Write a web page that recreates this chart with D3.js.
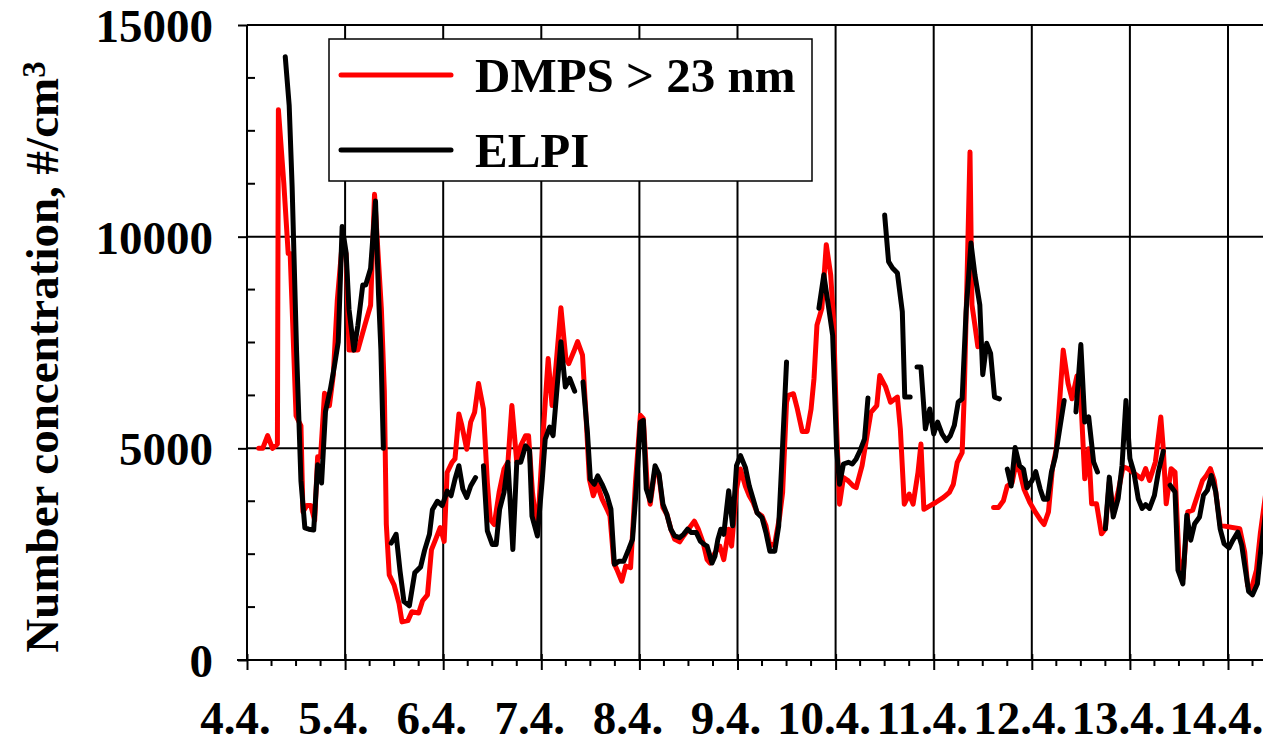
<!DOCTYPE html>
<html>
<head>
<meta charset="utf-8">
<script src="https://cdn.jsdelivr.net/npm/d3@7"></script>
<style>
  html, body { margin: 0; padding: 0; background: #fff; }
  svg { display: block; }
  text { font-family: "Liberation Serif", "Times New Roman", serif; font-weight: bold; fill: #000; }
</style>
</head>
<body>
<svg id="chart" width="1263" height="744"></svg>
<script>
// Day-of-April tick labels and y-axis ticks
const dayTicks = [4, 5, 6, 7, 8, 9, 10, 11, 12, 13, 14];
const dayLabels = ["4.4.", "5.4.", "6.4.", "7.4.", "8.4.", "9.4.", "10.4.", "11.4.", "12.4.", "13.4.", "14.4."];
const concTicks = [0, 5000, 10000, 15000];

// DMPS > 23 nm: time (day of April, fractional) and number concentration (#/cm3); null = no data
const dmpsDay = [
  4.12, 4.16, 4.21, 4.26, 4.31, 4.32, 4.375, 4.42, 4.44, 4.50, 4.55, 4.57, 4.61, 4.65, 4.69, 4.72, 4.75, 4.79, 4.84, 4.88,
  4.92, 4.97, 5.01, 5.04, 5.13, 5.20, 5.26, 5.30, 5.37, 5.40, 5.42, 5.45, 5.50, 5.55, 5.58, 5.64, 5.68, 5.75, 5.79, 5.84,
  5.88, 5.93, 5.97, 6.01, 6.04, 6.09, 6.12, 6.16, 6.19, 6.24, 6.28, 6.32, 6.36, 6.41, 6.45, 6.48, 6.52, 6.57, 6.62, 6.66,
  6.70, 6.75, 6.79, 6.84, 6.87, 6.91, 6.96, 7.02, 7.07, 7.11, 7.15, 7.20, 7.25, 7.28, 7.33, 7.37, 7.42, 7.45, 7.49, 7.53,
  7.57, 7.62, 7.67, 7.70, 7.74, 7.77, 7.82, 7.86, 7.91, 7.96, 8.01, 8.04, 8.08, 8.11, 8.16, 8.20, 8.24, 8.28, 8.32, 8.36,
  8.41, 8.45, 8.50, 8.56, 8.60, 8.65, 8.69, 8.72, 8.77, 8.82, 8.86, 8.91, 8.94, 8.99, 9.03, 9.08, 9.12, 9.16, 9.20, 9.25,
  9.29, 9.33, 9.38, 9.43, 9.46, 9.50, 9.52, 9.57, 9.61, 9.66, 9.71, 9.75, 9.78, 9.81, 9.86, 9.905, 9.95, 9.98, 10.01, 10.04,
  10.08, 10.13, 10.18, 10.21, 10.27, 10.315, 10.36, 10.42, 10.45, 10.51, 10.56, 10.63, 10.66, 10.70, 10.75, 10.79, 10.84, 10.87, 10.90, 10.96,
  11.02, 11.10, 11.16, 11.20, 11.24, 11.29, 11.31, 11.34, 11.37, 11.39, 11.42, 11.45, null,
  11.61, 11.66, 11.71, 11.75, 11.80, 11.84, 11.88, 11.92, 11.98, 12.04, 12.085, 12.125, 12.17, 12.21, 12.25, 12.32, 12.37, 12.41, 12.46, 12.50,
  12.54, 12.58, 12.61, 12.66, 12.71, 12.75, 12.79, 12.83, 12.88, 12.93, 12.98, 13.05, 13.12, 13.16, 13.20, 13.26, 13.315, 13.34, 13.37, 13.42,
  13.46, 13.50, 13.54, 13.59, 13.64, 13.69, 13.74, 13.78, 13.82, 13.86, 13.92, 14.12, 14.17, 14.20, 14.24, 14.29, 14.33, 14.40
];
const dmpsConc = [
  5000, 5000, 5300, 5000, 5100, 13000, 11270, 9600, 9600, 5770, 5530, 3500, 3650, 3650, 3300, 4800, 4800, 6300, 6010, 6740,
  8480, 9830, 9590, 7320, 7320, 7900, 8380, 11000, 8280, 6350, 3210, 2010, 1770, 1330, 900, 930, 1140, 1110, 1400, 1540,
  2600, 2890, 3130, 2800, 4430, 4670, 4750, 5810, 5540, 4980, 5620, 5850, 6530, 5930, 4190, 3320, 3200, 3960, 4510, 4670,
  6010, 4670, 5060, 5300, 5300, 3960, 3010, 5380, 7120, 6010, 6960, 8320, 7120, 7000, 7280, 7520, 7200, 6010, 4270, 3880,
  4150, 3800, 3560, 3400, 2290, 2140, 1860, 2220, 2180, 4190, 5780, 5700, 4100, 3680, 4510, 4350, 3600, 3440, 3100, 2850,
  2790, 2930, 3090, 3280, 3090, 2770, 2370, 2290, 2530, 2690, 2370, 3090, 2690, 4040, 4510, 4110, 3880, 3720, 3480, 3400,
  3170, 2690, 2750, 3400, 3960, 6090, 6250, 6290, 5930, 5400, 5400, 5930, 6650, 7910, 8310, 9810, 9100, 7990, 5500, 3680,
  4310, 4230, 4110, 4070, 4590, 5220, 5850, 6010, 6720, 6450, 6090, 6210, 5460, 3680, 3920, 3680, 4430, 5100, 3560, 3640,
  3720, 3840, 3960, 4150, 4670, 4900, 6170, 9020, 12000, 8390, 7910, 7400, null,
  3600, 3600, 3760, 4110, 4190, 4670, 4430, 4040, 3720, 3480, 3320, 3200, 3500, 4520, 4990, 7320, 6530, 6170, 6710, 6170,
  4280, 4990, 3690, 3690, 2980, 3100, 4200, 3500, 3970, 4560, 4520, 4400, 4280, 4520, 4240, 4680, 5740, 4990, 3690, 4520,
  4440, 2390, 1920, 3500, 3540, 3890, 4240, 4360, 4520, 4240, 3180, 3100, 2550, 1760, 1690, 2120, 3000, 4200
];

// ELPI: time (day of April, fractional) and number concentration (#/cm3); null = no data
const elpiDay = [
  4.39, 4.43, 4.46, 4.505, 4.55, 4.59, 4.63, 4.68, 4.72, 4.76, 4.80, 4.85, 4.89, 4.93, 4.97, 5.01, 5.04, 5.09, 5.13, 5.18,
  5.21, 5.26, 5.31, 5.34, 5.365, 5.39, null,
  5.47, 5.52, 5.56, 5.60, 5.655, 5.71, 5.77, 5.81, 5.86, 5.89, 5.94, 5.99, 6.04, 6.08, 6.12, 6.16, 6.20, 6.24, 6.28, 6.33, null,
  6.41, 6.45, 6.50, 6.54, 6.575, 6.62, 6.66, 6.71, 6.75, 6.79, 6.84, 6.88, 6.905, 6.96, 7.01, 7.04, 7.085, 7.12, 7.16, 7.20,
  7.245, 7.29, 7.34, null,
  7.425, 7.47, 7.50, 7.54, 7.575, 7.62, 7.67, 7.71, 7.745, 7.79, 7.84, 7.89, 7.93, 7.97, 8.01, 8.04, 8.07, 8.11, 8.16, 8.20,
  8.24, 8.28, 8.32, 8.36, 8.41, 8.45, 8.49, 8.53, 8.58, 8.62, 8.66, 8.69, 8.74, 8.77, 8.80, 8.83, 8.86, 8.91, 8.95, 8.99,
  9.03, 9.08, 9.12, 9.16, 9.20, 9.25, 9.29, 9.33, 9.38, 9.42, 9.45, 9.50, null,
  9.83, 9.88, 9.93, 9.97, 10.01, 10.04, 10.08, 10.13, 10.17, 10.21, 10.25, 10.295, 10.33, null,
  10.50, 10.54, 10.58, 10.63, 10.68, 10.705, 10.76, null,
  10.83, 10.87, 10.915, 10.96, 11.00, 11.04, 11.085, 11.13, 11.17, 11.21, 11.25, 11.29, 11.33, 11.38, 11.42, 11.47, 11.50, 11.54, 11.58, 11.62,
  11.67, null,
  11.75, 11.79, 11.83, 11.875, 11.915, 11.95, 12.00, 12.04, 12.085, 12.12, 12.16, 12.20, 12.24, 12.29, 12.33, null,
  12.45, 12.50, 12.54, 12.58, 12.63, 12.67, null,
  12.75, 12.79, 12.83, 12.88, 12.92, 12.96, 13.00, 13.04, 13.085, 13.125, 13.16, 13.20, 13.25, 13.29, 13.34, null,
  13.41, 13.46, 13.49, 13.54, 13.58, 13.62, 13.66, 13.71, 13.75, 13.79, 13.83, 13.875, 13.92, 13.96, 14.01, 14.05, 14.10, 14.14, 14.17, 14.21,
  14.25, 14.30, 14.33, 14.40
];
const elpiConc = [
  14250, 13100, 11180, 7320, 4230, 3120, 3090, 3070, 4610, 4180, 5870, 6400, 6930, 7510, 10240, 9630, 8280, 7320, 7900, 8860,
  8860, 9250, 10840, 8670, 7320, 5000, null,
  2760, 2970, 2100, 1380, 1280, 2060, 2200, 2590, 2970, 3550, 3750, 3650, 3990, 3880, 4270, 4590, 4040, 3840, 4110, 4310, null,
  4590, 3050, 2730, 2730, 3560, 3960, 4670, 2610, 4670, 4670, 5060, 4950, 3400, 2930, 4270, 5220, 5500, 5300, 6410, 7520,
  6450, 6650, 6350, null,
  6570, 5380, 4270, 4150, 4350, 4150, 3880, 3560, 2260, 2330, 2330, 2610, 2850, 4110, 5620, 5660, 4040, 3760, 4590, 4390,
  3680, 3440, 3090, 2930, 2890, 2970, 3090, 3010, 3010, 2810, 2730, 2690, 2290, 2450, 2850, 3090, 2970, 4000, 3170, 4590,
  4830, 4550, 4110, 3800, 3480, 3360, 3010, 2570, 2570, 3170, 4590, 7040, null,
  8310, 9100, 8310, 7670, 4980, 4150, 4630, 4670, 4630, 4750, 4950, 5220, 6190, null,
  10510, 9410, 9260, 9140, 8230, 6210, 6210, null,
  6920, 6920, 5460, 5930, 5340, 5620, 5340, 5180, 5300, 5540, 6090, 6170, 8230, 9850, 9100, 8390, 6740, 7480, 7240, 6210,
  6170, null,
  4510, 4110, 5020, 4590, 4510, 4070, 4230, 4450, 4040, 3800, 3800, 4440, 4800, 5540, 6130, null,
  5860, 7450, 5620, 5740, 4680, 4440, null,
  3100, 4320, 3380, 3810, 4600, 6130, 4760, 4440, 3810, 3580, 3670, 3580, 3890, 4440, 4930, null,
  4130, 3970, 2120, 1800, 3420, 2830, 3220, 3380, 3890, 4010, 4360, 3970, 3100, 2750, 2650, 2830, 3020, 2710, 2240, 1620,
  1540, 1800, 2500, 3800
];

const seriesNames = ["DMPS > 23 nm", "ELPI"];
const seriesColors = ["#ff0000", "#000000"];

const svg = d3.select("#chart");
const W = 1263, H = 744;
const plotLeft = 247, plotTop = 25, plotBottom = 660;
const dayWidth = 98.1;

const x = d3.scaleLinear().domain([4, 15]).range([plotLeft, plotLeft + 11 * dayWidth]);
const y = d3.scaleLinear().domain([0, 15000]).range([plotBottom, plotTop]);

// Grid: vertical lines at each day, horizontal at each major concentration tick
const grid = svg.append("g").attr("stroke", "#000").attr("stroke-width", 2);
grid.selectAll("line.v").data(dayTicks).join("line")
  .attr("x1", d => x(d)).attr("x2", d => x(d))
  .attr("y1", y(15000)).attr("y2", y(0));
grid.selectAll("line.h").data(concTicks.filter(d => d > 0)).join("line")
  .attr("x1", x(4)).attr("x2", W + 10)
  .attr("y1", d => y(d)).attr("y2", d => y(d));

// Left axis: major ticks outward, minor ticks inward every 1250
const yAxis = d3.axisLeft(y).tickValues(concTicks).tickSize(9).tickFormat(d3.format("d"));
const gy = svg.append("g").attr("transform", `translate(${plotLeft},0)`).call(yAxis);
gy.select(".domain").attr("stroke-width", 2).attr("d", `M0,${plotTop}V${plotBottom}`);
gy.selectAll(".tick line").attr("stroke-width", 2);
gy.selectAll(".tick text")
  .attr("x", -34).attr("dy", "0.35em")
  .style("font-size", "47px").style("font-family", "'Liberation Serif', serif").style("font-weight", "bold");
const yMinor = d3.range(0, 15001, 1250).filter(v => v % 5000 !== 0);
svg.append("g").attr("stroke", "#000").attr("stroke-width", 2)
  .selectAll("line").data(yMinor).join("line")
  .attr("x1", plotLeft).attr("x2", plotLeft + 8)
  .attr("y1", d => y(d)).attr("y2", d => y(d));

// Bottom axis: day labels, major ticks crossing, minor ticks every 6 h
const xAxis = d3.axisBottom(x).tickValues(dayTicks).tickSize(10)
  .tickFormat((d, i) => dayLabels[i]);
const gx = svg.append("g").attr("transform", `translate(0,${plotBottom})`).call(xAxis);
gx.select(".domain").attr("stroke-width", 2).attr("d", `M${plotLeft - 10},0H${W + 10}`);
gx.selectAll(".tick line").attr("stroke-width", 2).attr("y1", -6);
gx.selectAll(".tick text")
  .attr("y", 0).attr("dy", 0).attr("transform", "translate(-12,74)")
  .style("font-size", "47px").style("font-family", "'Liberation Serif', serif").style("font-weight", "bold");
const xMinor = d3.range(4, 15, 0.25).filter(v => v % 1 !== 0);
svg.append("g").attr("stroke", "#000").attr("stroke-width", 2)
  .selectAll("line").data(xMinor).join("line")
  .attr("x1", d => x(d)).attr("x2", d => x(d))
  .attr("y1", plotBottom).attr("y2", plotBottom + 6);

// Top frame
svg.append("line").attr("x1", plotLeft).attr("x2", W + 10)
  .attr("y1", plotTop).attr("y2", plotTop).attr("stroke", "#000").attr("stroke-width", 2);

// Series lines
const line = d3.line()
  .defined(d => d[1] != null)
  .x(d => x(d[0])).y(d => y(d[1]));
const series = [
  d3.zip(dmpsDay, dmpsConc),
  d3.zip(elpiDay, elpiConc)
];
svg.append("g").selectAll("path").data(series).join("path")
  .attr("d", line)
  .attr("fill", "none")
  .attr("stroke", (d, i) => seriesColors[i])
  .attr("stroke-width", 5)
  .attr("stroke-linejoin", "round")
  .attr("stroke-linecap", "round");

// Legend
const lg = svg.append("g");
lg.append("rect").attr("x", 329).attr("y", 39).attr("width", 483).attr("height", 142)
  .attr("fill", "#fff").attr("stroke", "#000").attr("stroke-width", 1.5);
const legendY = [75, 150];
seriesNames.forEach((name, i) => {
  lg.append("line").attr("x1", 341).attr("x2", 451)
    .attr("y1", legendY[i]).attr("y2", legendY[i])
    .attr("stroke", seriesColors[i]).attr("stroke-width", 5).attr("stroke-linecap", "round");
  lg.append("text").attr("x", 475).attr("y", legendY[i] + 17)
    .style("font-size", "49px").text(name);
});

// Y-axis title
const title = svg.append("text")
  .attr("transform", `translate(58,357) rotate(-90)`)
  .attr("text-anchor", "middle")
  .style("font-size", "47px");
title.append("tspan").text("Number concentration, #/cm");
title.append("tspan").attr("dy", "-0.4em").style("font-size", "33px").text("3");
</script>
</body>
</html>
